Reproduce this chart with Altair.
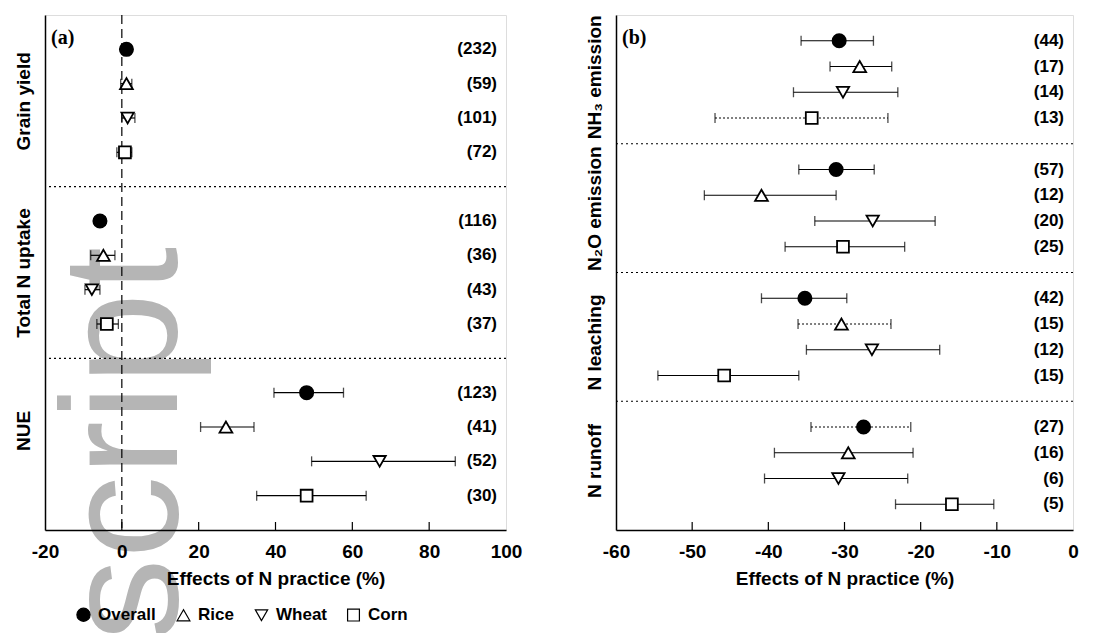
import altair as alt
import pandas as pd

crops = ["Overall", "Rice", "Wheat", "Corn"]
shapes = ["circle", "triangle-up", "triangle-down", "square"]
fills = ["black", "white", "white", "white"]

# ---- Panel (a) ----
a_groups = ["Grain yield", "Total N uptake", "NUE"]
a_mean = [1.2, 1.2, 1.5, 0.8, -5.7, -4.8, -7.8, -3.9, 48.1, 27.1, 67.1, 48.1]
a_low = [0.5, -0.3, 0.0, -1.3, -7.0, -8.1, -9.6, -6.5, 39.6, 20.5, 49.4, 35.1]
a_high = [1.9, 2.6, 3.4, 2.6, -4.3, -1.8, -5.7, -0.9, 57.7, 34.4, 86.8, 63.6]
a_n = [232, 59, 101, 72, 116, 36, 43, 37, 123, 41, 52, 30]
a_ticks = [-20, 0, 20, 40, 60, 80, 100]

# ---- Panel (b) ----
b_groups = ["NH\u2083 emission", "N\u2082O emission", "N leaching", "N runoff"]
b_mean = [-30.7, -28.0, -30.2, -34.3, -31.1, -40.9, -26.3, -30.2,
          -35.2, -30.4, -26.4, -45.8, -27.5, -29.5, -30.8, -15.9]
b_low = [-35.7, -31.9, -36.7, -47.0, -36.0, -48.4, -33.9, -37.8,
         -40.9, -36.1, -35.0, -54.5, -34.4, -39.2, -40.5, -23.3]
b_high = [-26.2, -23.8, -23.0, -24.3, -26.1, -31.1, -18.1, -22.1,
          -29.7, -23.9, -17.5, -36.0, -21.3, -21.0, -21.7, -10.4]
b_n = [44, 17, 14, 13, 57, 12, 20, 25, 42, 15, 12, 15, 27, 16, 6, 5]
b_ticks = [-60, -50, -40, -30, -20, -10, 0]

# error bars drawn dotted in the original figure (group, crop)
dotted_bars = [("NH\u2083 emission", "Corn"), ("N leaching", "Rice"), ("N runoff", "Overall")]

FONT = "Liberation Sans"
H = 515


def panel(groups, mean, low, high, n, ticks, tag, width, label_pos,
          show_legend, zero_line, watermark):
    rows = []
    for gi, g in enumerate(groups):
        for ci, c in enumerate(crops):
            i = gi * 4 + ci
            rows.append(dict(group=g, crop=c, pos=gi * 5 + ci + 1,
                             mean=mean[i], low=low[i], high=high[i],
                             n=f"({n[i]})", dotted=(g, c) in dotted_bars))
    df = pd.DataFrame(rows)
    ymax = len(groups) * 5
    expr = " : ".join(
        [f"abs(datum.value - {p}) < 0.01 ? '{g}'" for p, g in zip(label_pos, groups)]
    ) + " : ''"
    yscale = alt.Scale(domain=[0, ymax], reverse=True, nice=False, zero=False)
    yaxis = alt.Axis(values=label_pos, labelExpr=expr, labelAngle=270,
                     labelAlign="center", labelBaseline="bottom",
                     labelFont=FONT, labelFontWeight="bold", labelFontSize=19,
                     labelColor="black", labelPadding=12, ticks=False,
                     domainColor="black", domainWidth=1.5, grid=False,
                     zindex=1, title=None)
    xscale = alt.Scale(domain=[ticks[0], ticks[-1]], nice=False, zero=False)
    xaxis = alt.Axis(values=ticks, labelExpr="'' + datum.value", labelFlush=False,
                     labelFont=FONT, labelFontWeight="bold", labelFontSize=19,
                     labelColor="black", labelPadding=12, ticks=False,
                     domainColor="black", domainWidth=1.5, grid=False,
                     title="Effects of N practice (%)", titleFont=FONT,
                     titleFontWeight="bold", titleFontSize=19,
                     titleColor="black", titlePadding=8, zindex=1)

    base = alt.Chart(df)
    layers = []

    if watermark:
        wm = alt.Chart(pd.DataFrame({"t": ["script"]})).mark_text(
            angle=270, align="left", baseline="alphabetic", font=FONT,
            fontSize=165, color="#b5b5b5"
        ).encode(x=alt.value(132), y=alt.value(626), text="t:N")
        layers.append(wm)

    seps = alt.Chart(pd.DataFrame({"pos": [5 * k for k in range(1, len(groups))]})).mark_rule(
        color="black", strokeWidth=1.2, strokeDash=[2, 3]
    ).encode(y=alt.Y("pos:Q", scale=yscale, axis=yaxis))
    layers.append(seps)

    tk = alt.Chart(pd.DataFrame({"t": ticks[1:-1]})).mark_rule(
        color="black", strokeWidth=1.2
    ).encode(x=alt.X("t:Q", scale=xscale, axis=xaxis),
             y=alt.value(H - 8), y2=alt.value(H))
    layers.append(tk)

    if zero_line:
        zl = alt.Chart(pd.DataFrame({"z": [0]})).mark_rule(
            color="black", strokeWidth=1.2, strokeDash=[9, 5]
        ).encode(x=alt.X("z:Q", scale=xscale, axis=xaxis))
        layers.append(zl)

    solid_df = df[~df["dotted"]]
    dot_df = df[df["dotted"]]
    bars = alt.Chart(solid_df).mark_rule(color="black", strokeWidth=1.2).encode(
        x=alt.X("low:Q", scale=xscale, axis=xaxis), x2="high:Q",
        y=alt.Y("pos:Q", scale=yscale, axis=yaxis))
    layers.append(bars)
    if len(dot_df):
        dbars = alt.Chart(dot_df).mark_rule(color="black", strokeWidth=1.2,
                                            strokeDash=[2, 2]).encode(
            x=alt.X("low:Q", scale=xscale, axis=xaxis), x2="high:Q",
            y=alt.Y("pos:Q", scale=yscale, axis=yaxis))
        layers.append(dbars)
    capl = base.mark_tick(orient="vertical", size=10, thickness=1.3, color="black").encode(
        x=alt.X("low:Q", scale=xscale, axis=xaxis), y=alt.Y("pos:Q", scale=yscale, axis=yaxis))
    caph = base.mark_tick(orient="vertical", size=10, thickness=1.3, color="black").encode(
        x=alt.X("high:Q", scale=xscale, axis=xaxis), y=alt.Y("pos:Q", scale=yscale, axis=yaxis))
    layers += [capl, caph]

    if show_legend:
        leg = alt.Legend(orient="none", legendX=30, legendY=591,
                         direction="horizontal", title=None,
                         labelFont=FONT, labelFontWeight="bold",
                         labelFontSize=17, labelColor="black",
                         columnPadding=18, labelOffset=6,
                         symbolStrokeWidth=1.2)
    else:
        leg = None
    pts = base.mark_point(filled=True, strokeWidth=1.8, opacity=1).encode(
        x=alt.X("mean:Q", scale=xscale, axis=xaxis),
        y=alt.Y("pos:Q", scale=yscale, axis=yaxis),
        shape=alt.Shape("crop:N", scale=alt.Scale(domain=crops, range=shapes),
                        legend=leg),
        fill=alt.Fill("crop:N", scale=alt.Scale(domain=crops, range=fills),
                      legend=leg),
        stroke=alt.Stroke("crop:N", scale=alt.Scale(domain=crops, range=["black"] * 4),
                          legend=leg),
        size=alt.Size("crop:N", scale=alt.Scale(domain=crops, range=[175, 140, 140, 140]),
                      legend=leg),
    )
    layers.append(pts)

    cnt = base.mark_text(align="right", baseline="middle", font=FONT,
                         fontWeight="bold", fontSize=17, color="black").encode(
        y=alt.Y("pos:Q", scale=yscale, axis=yaxis), x=alt.value(width - 9),
        text="n:N")
    layers.append(cnt)

    tg = alt.Chart(pd.DataFrame({"t": [tag]})).mark_text(
        align="left", baseline="middle", font="Liberation Serif",
        fontWeight="bold", fontSize=20, color="black"
    ).encode(x=alt.value(6), y=alt.value(23), text="t:N")
    layers.append(tg)

    return alt.layer(*layers).properties(width=width, height=H)


pa = panel(a_groups, a_mean, a_low, a_high, a_n, a_ticks, "(a)", 461,
           [2.5, 7.5, 12.1], True, True, True)
pb = panel(b_groups, b_mean, b_low, b_high, b_n, b_ticks, "(b)", 457,
           [2.4, 7.5, 12.7, 17.3], False, False, False)

chart = alt.hconcat(pa, pb, spacing=61).resolve_scale(
    shape="independent", fill="independent", size="independent", stroke="independent"
).resolve_legend(shape="independent", fill="independent", size="independent",
                 stroke="independent").configure_view(
    stroke="black", strokeWidth=1.5
).configure(background="white")

chart.save("out.html", embed_options={"renderer": "svg", "actions": False})
